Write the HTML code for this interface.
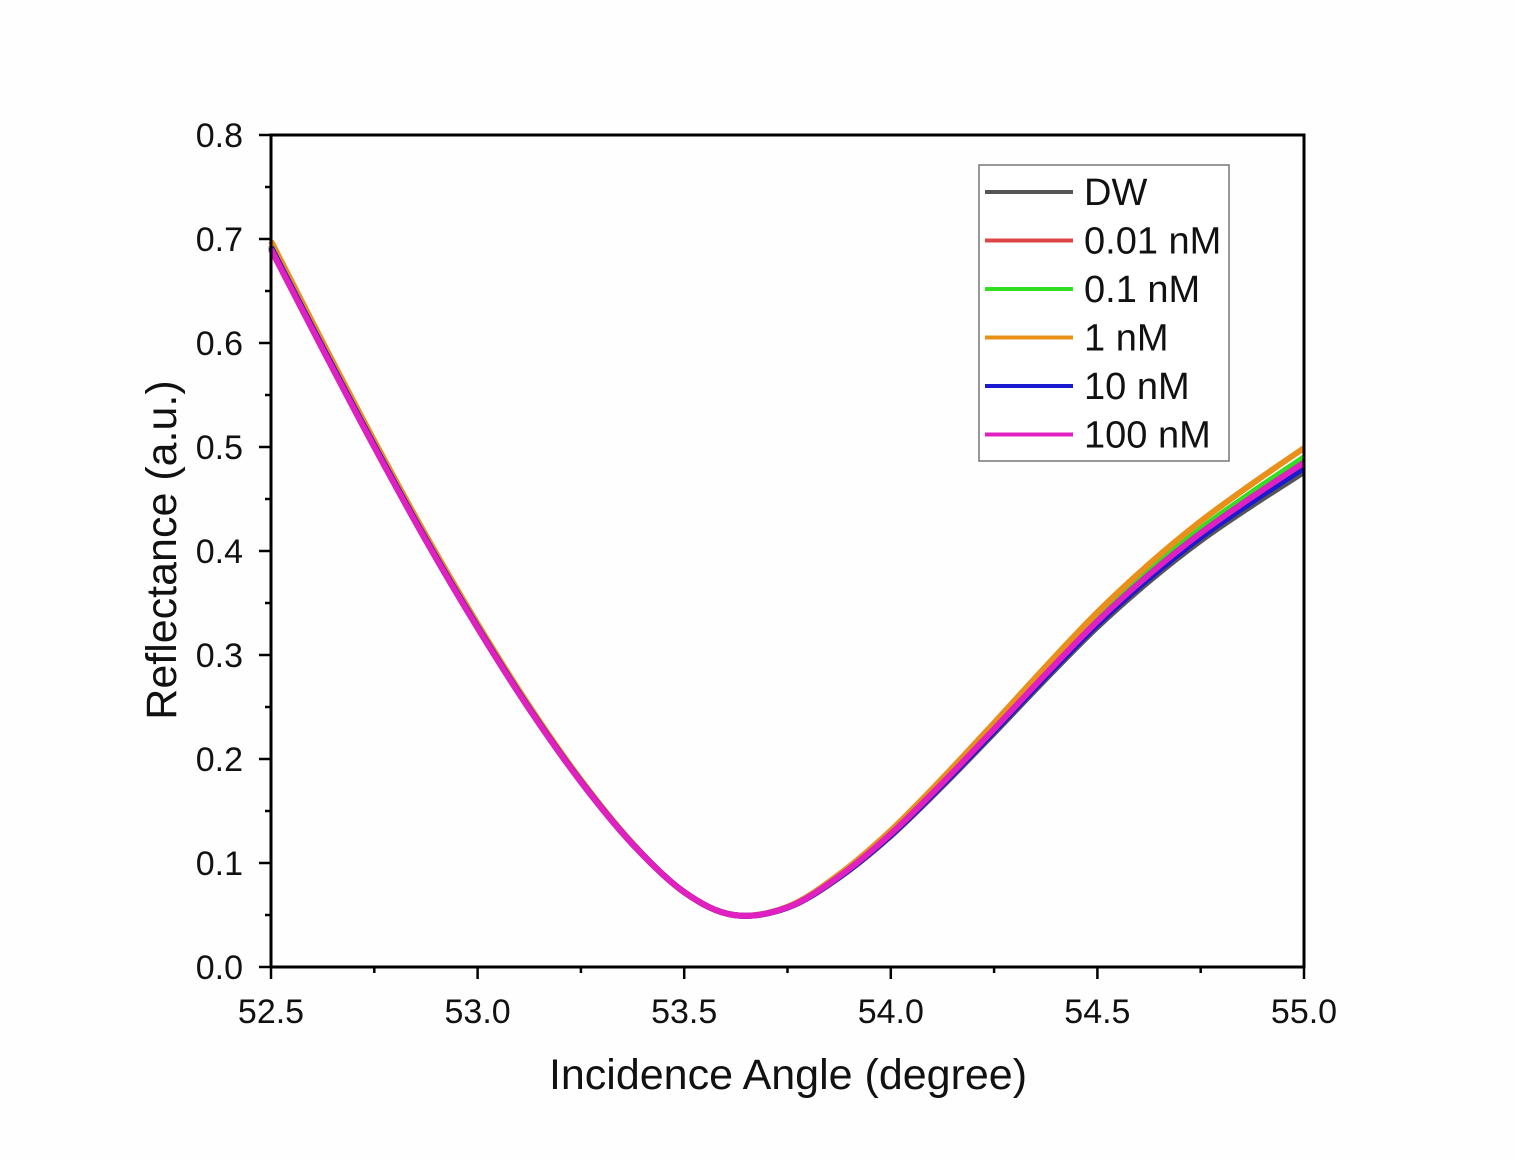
<!DOCTYPE html>
<html><head><meta charset="utf-8"><style>
html,body{margin:0;padding:0;background:#fff;}
svg{display:block;font-family:"Liberation Sans",Arial,sans-serif;}
</style></head><body>
<svg id="s" width="1515" height="1160" viewBox="0 0 1515 1160">
<rect width="1515" height="1160" fill="#fefefe"/>
<g id="curves"></g>
<rect x="271" y="135" width="1033" height="832" fill="none" stroke="#000" stroke-width="3"/>
<g id="ticks" stroke="#000" stroke-width="2.5"></g>
<g id="labels" font-size="34" fill="#111"></g>
<text x="176" y="550" font-size="43" text-anchor="middle" transform="rotate(-90 176 550)" fill="#111">Reflectance (a.u.)</text>
<text x="788" y="1089" font-size="43" text-anchor="middle" fill="#111">Incidence Angle (degree)</text>
<rect x="979" y="165" width="250" height="296" fill="#fff" stroke="#777" stroke-width="1.5"/>
<g id="legend" font-size="38" fill="#111"></g>
</svg>
<script>
const ns="http://www.w3.org/2000/svg";
function X(a){return 271+(a-52.5)/2.5*1033;}
function Y(r){return 967-r/0.8*832;}
function el(p,t,at){const e=document.createElementNS(ns,t);for(const k in at)e.setAttribute(k,at[k]);p.appendChild(e);return e;}
const T=document.getElementById('ticks'),L=document.getElementById('labels');
for(let i=0;i<=16;i++){const y=Y(i*0.05);const len=i%2==0?12:6;el(T,'line',{x1:271-len,x2:271,y1:y,y2:y});
 if(i%2==0){const t=el(L,'text',{x:243,y:y+12,'text-anchor':'end'});t.textContent=(i*0.05).toFixed(1);}}
for(let i=0;i<=10;i++){const x=X(52.5+i*0.25);const len=i%2==0?12:6;el(T,'line',{x1:x,x2:x,y1:967,y2:967+len});
 if(i%2==0){const t=el(L,'text',{x:x,y:1023,'text-anchor':'middle'});t.textContent=(52.5+i*0.25).toFixed(1);}}
const base=[[52.5,0.69],[52.625,0.594],[52.75,0.5],[52.875,0.41],[53.0,0.326],[53.125,0.248],[53.25,0.178],[53.375,0.118],[53.5,0.072],[53.62,0.05],[53.75,0.057],[53.875,0.086],[54.0,0.126],[54.125,0.174],[54.25,0.225],[54.375,0.277],[54.5,0.327],[54.625,0.371],[54.75,0.41],[54.875,0.444],[55.0,0.476]];
const series=[["DW","#555555",0,0],["0.01 nM","#e04545",0.004,0.006],["0.1 nM","#30e020",0.003,0.014],["1 nM","#e8901a",0.008,0.023],["10 nM","#1a1ad0",0.002,0.004],["100 nM","#e020c0",0.0,0.009]];
function path(pts){let d="M"+pts[0][0]+","+pts[0][1];for(let i=0;i<pts.length-1;i++){const p0=pts[Math.max(0,i-1)],p1=pts[i],p2=pts[i+1],p3=pts[Math.min(pts.length-1,i+2)];
 d+=" C"+(p1[0]+(p2[0]-p0[0])/6)+","+(p1[1]+(p2[1]-p0[1])/6)+" "+(p2[0]-(p3[0]-p1[0])/6)+","+(p2[1]-(p3[1]-p1[1])/6)+" "+p2[0]+","+p2[1];}return d;}
const C=document.getElementById('curves'),G=document.getElementById('legend');
series.forEach((s,k)=>{const pts=base.map(([a,r])=>{let dr=0;if(a<53.5)dr=s[2]*(53.5-a);else if(a>53.7)dr=s[3]*Math.min(1,(a-53.7)/1.3);return [X(a),Y(r+dr)];});
 el(C,'path',{d:path(pts),fill:'none',stroke:s[1],'stroke-width':6});
 const y=192+k*48.5;el(G,'line',{x1:985,x2:1073,y1:y,y2:y,stroke:s[1],'stroke-width':4});
 const t=el(G,'text',{x:1084,y:y+13});t.textContent=s[0];});
</script>
</body></html>
